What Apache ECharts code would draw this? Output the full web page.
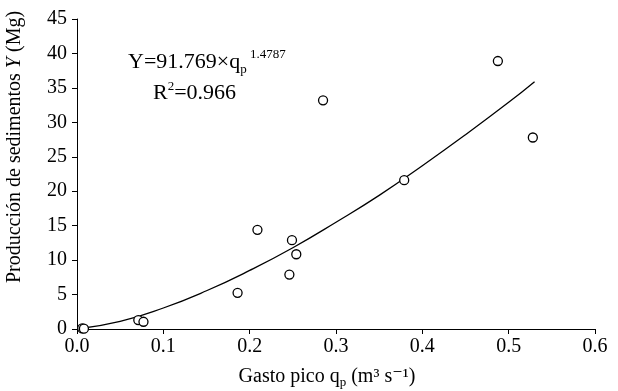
<!DOCTYPE html>
<html lang="es">
<head>
    <meta charset="UTF-8">
    <title>Producción de sedimentos</title>
    <script src="https://cdn.jsdelivr.net/npm/echarts@6/dist/echarts.min.js"></script>
</head>
<body style="margin:0">
<div id="main" style="width: 618px;height:391px;"></div>

<script type="text/javascript">
    // observed points: peak discharge q_p (m3/s) and sediment yield Y (Mg)
    var gasto = [0.006, 0.008, 0.071, 0.077, 0.186, 0.209, 0.246, 0.249, 0.254, 0.285, 0.379, 0.4875, 0.528];
    var sedimentos = [0.1, 0.05, 1.3, 1.05, 5.25, 14.4, 7.9, 12.9, 10.85, 33.2, 21.6, 38.9, 27.8];

    // fitted curve
    var curvaQ = [0, 0.05, 0.1, 0.15, 0.2, 0.25, 0.3, 0.35, 0.4, 0.45, 0.5, 0.53];
    var curvaY = [0, 1.1, 3.05, 5.55, 8.5, 11.8, 15.5, 19.4, 23.7, 28.2, 32.9, 35.9];

    var xTicks = [0, 0.1, 0.2, 0.3, 0.4, 0.5, 0.6];
    var yTicks = [0, 5, 10, 15, 20, 25, 30, 35, 40, 45];

    var fuente = '"Liberation Serif", "DejaVu Serif", serif';

    var puntos = gasto.map(function (q, i) { return [q, sedimentos[i]]; });
    var curva = curvaQ.map(function (q, i) { return [q, curvaY[i]]; });

    var myChart = echarts.init(document.getElementById('main'));
    var option = {
        animation: false,
        textStyle: { fontFamily: fuente, color: '#000' },
        grid: { left: 77, right: 23, top: 19, bottom: 62, containLabel: false, outerBoundsMode: 'none' },
        xAxis: {
            type: 'value',
            min: xTicks[0], max: xTicks[xTicks.length - 1], interval: 0.1,
            splitLine: { show: false },
            axisLine: { lineStyle: { color: '#000', width: 1 } },
            axisTick: { length: 5, lineStyle: { color: '#000' } },
            axisLabel: { fontSize: 20, color: '#000', fontFamily: fuente, margin: 8,
                formatter: function (v) { return v.toFixed(1); } },
            name: '{n|Gasto pico q}{s|p}{n| (m³ s⁻¹)}',
            nameLocation: 'middle', nameGap: 36,
            nameTextStyle: {
                padding: [0, 18, 0, 0],
                rich: {
                    n: { fontSize: 20, fontFamily: fuente, color: '#000', lineHeight: 24 },
                    s: { fontSize: 13, fontFamily: fuente, color: '#000', lineHeight: 12, verticalAlign: 'bottom' }
                }
            }
        },
        yAxis: {
            type: 'value',
            min: yTicks[0], max: yTicks[yTicks.length - 1], interval: 5,
            splitLine: { show: false },
            axisLine: { show: true, lineStyle: { color: '#000', width: 1 } },
            axisTick: { show: true, length: 5, lineStyle: { color: '#000' } },
            axisLabel: { fontSize: 20, color: '#000', fontFamily: fuente, margin: 10 },
            name: '{n|Producción de sedimentos }{i|Y}{n| (Mg)}',
            nameLocation: 'middle', nameGap: 52,
            nameTextStyle: {
                padding: [0, 0, 0, 54],
                rich: {
                    n: { fontSize: 20, fontFamily: fuente, color: '#000' },
                    i: { fontSize: 20, fontFamily: fuente, color: '#000', fontStyle: 'italic' }
                }
            }
        },
        graphic: [
            {
                type: 'text', left: 128, top: 48,
                style: {
                    text: '{n|Y=91.769×q}{s|p}{e| 1.4787}',
                    rich: {
                        n: { fontSize: 22, fontFamily: fuente, fill: '#000', lineHeight: 28 },
                        s: { fontSize: 13, fontFamily: fuente, fill: '#000', lineHeight: 12, verticalAlign: 'bottom' },
                        e: { fontSize: 13, fontFamily: fuente, fill: '#000', lineHeight: 12, verticalAlign: 'top' }
                    }
                }
            },
            {
                type: 'text', left: 153, top: 80,
                style: {
                    text: '{n|R}{e|2}{n|=0.966}',
                    rich: {
                        n: { fontSize: 22, fontFamily: fuente, fill: '#000', lineHeight: 26 },
                        e: { fontSize: 13, fontFamily: fuente, fill: '#000', lineHeight: 14, verticalAlign: 'top' }
                    }
                }
            }
        ],
        series: [
            {
                type: 'line',
                data: curva,
                smooth: true,
                showSymbol: false,
                lineStyle: { color: '#000', width: 1.3 },
                z: 2
            },
            {
                type: 'scatter',
                data: puntos,
                symbol: 'circle',
                symbolSize: 9,
                itemStyle: { color: '#fff', borderColor: '#000', borderWidth: 1.3, opacity: 1 },
                z: 3
            }
        ]
    };

    myChart.setOption(option);
</script>
</body>
</html>
